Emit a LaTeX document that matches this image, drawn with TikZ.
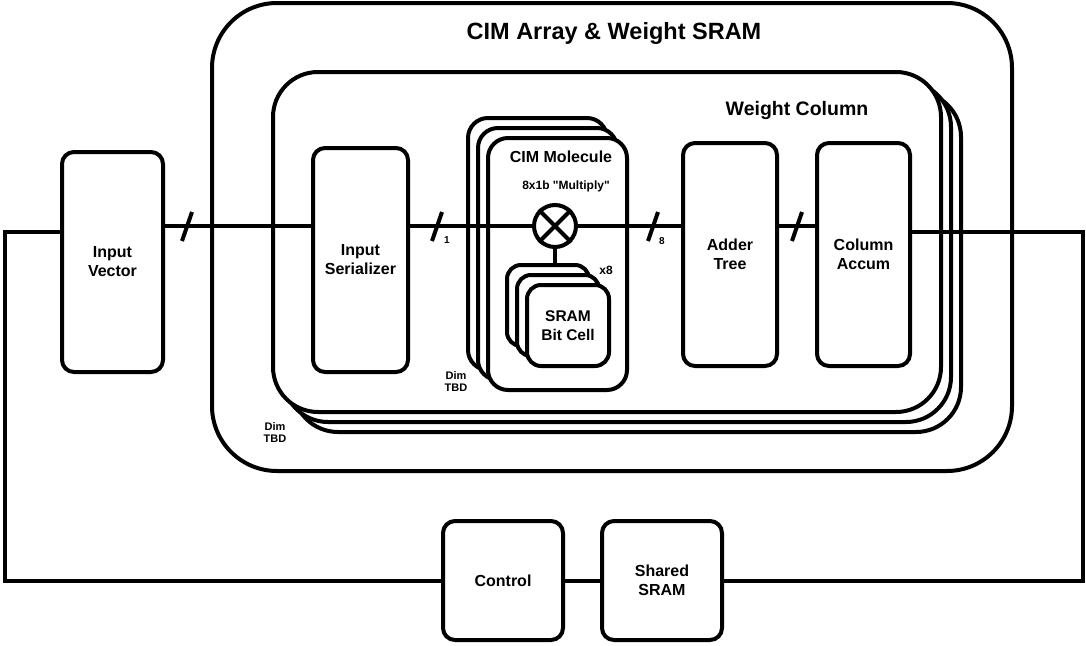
\documentclass[tikz,border=0pt]{standalone}
\usepackage{fontspec}
\setmainfont{Liberation Sans}[Ligatures=TeXOff]
\usetikzlibrary{positioning}

\tikzset{
    blk/.style={draw, line width=4pt, fill=white, rounded corners=12pt, align=center,
        font=\bfseries\fontsize{16}{19}\selectfont},
    wire/.style={line width=4pt},
    tag/.style={align=center, font=\bfseries\fontsize{11}{12}\selectfont}
}

\begin{document}
\begin{tikzpicture}[x=1pt, y=-1pt]
\useasboundingbox (0,0) rectangle (1086,645);

% CIM Array (outer box)
\node[blk, rounded corners=65pt, minimum width=800pt, minimum height=468pt] (arr) at (612,237) {};
\node[font=\bfseries\fontsize{23.5}{28}\selectfont] (arrtitle) at (614,33) {CIM Array \& Weight SRAM};

% Weight Column stack, back to front
\foreach \d in {20,10,0}
{
    \node[blk, rounded corners=45pt, minimum width=668pt, minimum height=340pt] (wc\d) at (607+\d,242+\d) {};
}
\node[font=\bfseries\fontsize{19.5}{23}\selectfont] (wctitle) at (797,110) {Weight Column};

% Blocks
\node[blk, minimum width=101pt, minimum height=220pt] (vec) at (112.5,262) {Input\\Vector};
\node[blk, minimum width=95pt, minimum height=224pt] (ser) at (360.5,260) {Input\\Serializer};
\node[blk, minimum width=94pt, minimum height=223pt] (add) at (730,254.5) {Adder\\Tree};
\node[blk, minimum width=93pt, minimum height=223pt] (acc) at (863.5,254.5) {Column\\Accum};
\node[blk, minimum width=120pt, minimum height=119pt] (ctrl) at (503,580.5) {Control};
\node[blk, minimum width=120pt, minimum height=119pt] (shared) at (662,580.5) {Shared\\SRAM};

% CIM Molecule stack, back to front
\foreach \d in {20,10,0}
{
    \node[blk, rounded corners=20pt, minimum width=139pt, minimum height=252pt] (mol\d) at (557.5-\d,264-\d) {};
}
\node[font=\bfseries\fontsize{16}{19}\selectfont] (moltitle) at (561,157) {CIM Molecule};
\node[font=\bfseries\fontsize{12}{14}\selectfont] (multxt) at (566,186) {8x1b "Multiply"};

% SRAM Bit Cell stack, back to front
\foreach \d in {20,10,0}
{
    \node[blk, rounded corners=14pt, minimum width=82pt, minimum height=81pt] (sr\d) at (568-\d,325.5-\d) {};
}
\node[font=\bfseries\fontsize{15.5}{19}\selectfont, align=center] (srtxt) at (sr0) {SRAM\\Bit Cell};
\node[tag, font=\bfseries\fontsize{12}{14}\selectfont] (x8) at (606,270) {x8};

% Multiplier
\node[draw, circle, line width=4pt, fill=white, minimum size=42pt, inner sep=0pt] (mul) at (555,226) {};
\draw[wire] (mul.45) -- (mul.225) (mul.135) -- (mul.315);

% Dim labels
\node[tag] (dim1) at (456,382) {Dim\\TBD};
\node[tag] (dim2) at (275,433) {Dim\\TBD};

% Connectors
\coordinate (ltop) at (5,232);
\coordinate (rtop) at (1083,232);
\draw[wire] (ltop -| vec.west) -- (ltop) |- (ctrl.west);
\draw[wire] (ctrl) -- (shared);
\draw[wire] (shared.east) -| (rtop) -- (rtop -| acc.east);
\draw[wire] (vec.east |- mul) -- (ser.west |- mul);
\draw[wire] (ser.east |- mul) -- (mul);
\draw[wire] (mul) -- (add.west |- mul);
\draw[wire] (add.east |- mul) -- (acc.west |- mul);
\draw[wire] (mul) -- (mul |- sr20.north);

% Bus width marks
\foreach \x in {187,437,653,797}
{
    \draw[wire] (\x-5,241) -- (\x+5,212);
}
\node[font=\bfseries\fontsize{10}{12}\selectfont] (w1) at (447,240) {1};
\node[font=\bfseries\fontsize{10}{12}\selectfont] (w8) at (662,241) {8};

\end{tikzpicture}
\end{document}
